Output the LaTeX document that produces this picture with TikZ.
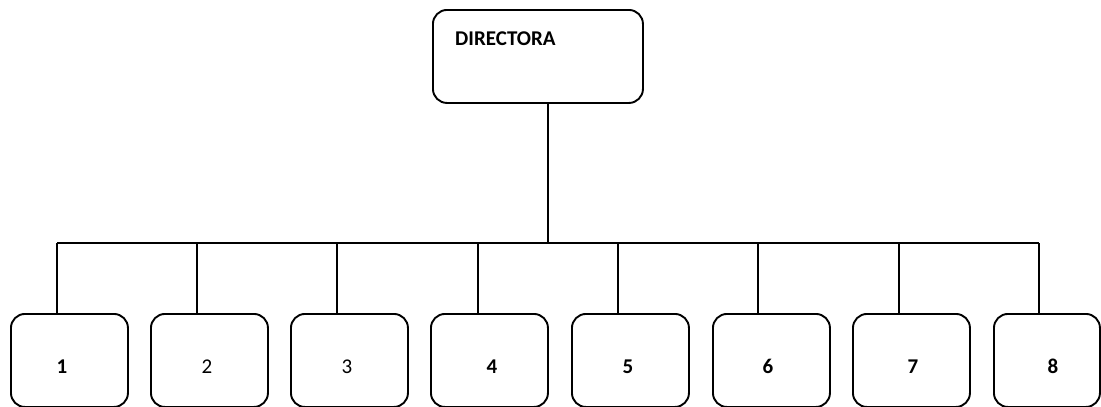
\documentclass[tikz,border=0pt]{standalone}
\usepackage{fontspec}
\setmainfont{Carlito}
\begin{document}
\begin{tikzpicture}[x=1pt,y=-1pt,
  box/.style={draw=black,line width=1.9pt,rounded corners=14pt,minimum width=117pt,minimum height=93pt,inner sep=0pt,anchor=north west},
  conn/.style={draw=black,line width=1.9pt},
  lbl/.style={inner sep=0pt,anchor=base,font=\fontsize{21}{24}\selectfont},
  blbl/.style={lbl,font=\fontsize{21}{24}\selectfont\bfseries}]
\useasboundingbox (0,0) rectangle (1101,407);
% director
\node[box,minimum width=210pt] (d) at (432,9) {};
\node[inner sep=0pt,anchor=base west,font=\fontsize{21}{24}\selectfont\bfseries] (dt) at (455,45) {DIRECTORA};
% children
\node[box] (b1) at (10,313) {};
\node[box] (b2) at (150,313) {};
\node[box] (b3) at (290,313) {};
\node[box] (b4) at (430,313) {};
\node[box] (b5) at (571,313) {};
\node[box] (b6) at (712,313) {};
\node[box] (b7) at (852,313) {};
\node[box,minimum width=106pt] (b8) at (993,313) {};
\node[blbl] (l1) at (62,373) {1};
\node[lbl] (l2) at (207,373) {2};
\node[lbl] (l3) at (347,373) {3};
\node[blbl] (l4) at (492,373) {4};
\node[blbl] (l5) at (628,373) {5};
\node[blbl] (l6) at (768,373) {6};
\node[blbl] (l7) at (913,373) {7};
\node[blbl] (l8) at (1053,373) {8};
% bus
\coordinate (t) at (548,243);
\coordinate (j1) at (57,243);
\coordinate (j2) at (197,243);
\coordinate (j3) at (337,243);
\coordinate (j4) at (478,243);
\coordinate (j5) at (618,243);
\coordinate (j6) at (758,243);
\coordinate (j7) at (899,243);
\coordinate (j8) at (1039,243);
\draw[conn] (t |- d.south) -- (t);
\draw[conn] (j1) -- (j8);
\foreach \i in {1,...,8}{\draw[conn] (j\i) -- (j\i |- b\i.north);}
\end{tikzpicture}
\end{document}
